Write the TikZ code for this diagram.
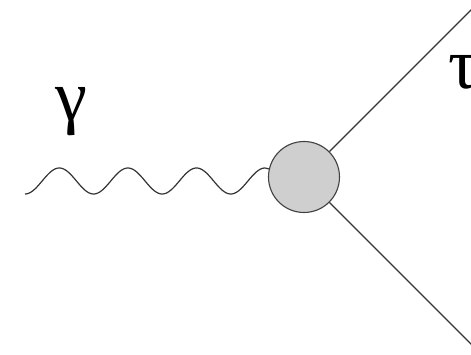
\documentclass[tikz,border=0pt]{standalone}
\usepackage{fontspec}
\setmainfont{Liberation Serif}
\begin{document}
\begin{tikzpicture}[x=1pt,y=1pt,
  line/.style={draw=black!80, line width=1.2pt},
  blob/.style={circle, draw=black!75, line width=1.1pt, fill=black!19, minimum size=71pt, inner sep=0pt},
  lbl/.style={inner sep=0pt, font=\fontsize{72}{72}\selectfont}]
\useasboundingbox (0,0) rectangle (471,355);
\clip (0,0) rectangle (471,355);
\node[blob] (v) at (304,178) {};
\coordinate (in) at (25,161);
\coordinate (outA) at (490,-8);
\coordinate (outB) at (490,364);
\draw[line] plot[domain=0:3.5, samples=200, smooth] ({25+68.6*\x},{174-13*cos(360*\x)}) -- (v);
\draw[line] (v.45) -- (outB);
\draw[line] (v.-45) -- (outA);
\node[lbl, anchor=north west] (g) at (55,268) {γ};
\node[lbl, anchor=north west] (t) at (448,300) {τ};
\end{tikzpicture}
\end{document}
